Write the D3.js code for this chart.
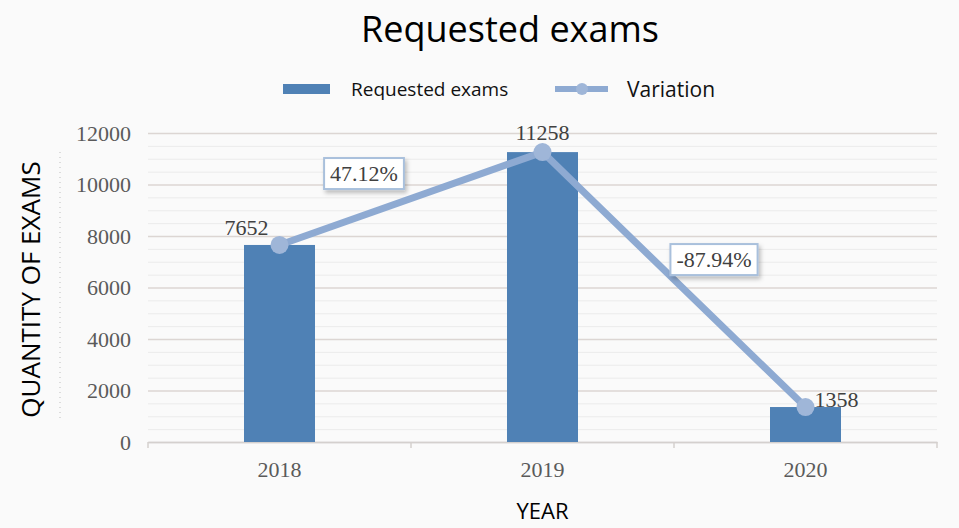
<!DOCTYPE html>
<html>
<head>
<meta charset="utf-8">
<script src="https://cdn.jsdelivr.net/npm/d3@7"></script>
<style>
  body { margin: 0; background: #fafafa; }
  svg { display: block; }
</style>
</head>
<body>
<div id="chart"></div>
<script>
(function () {
    'use strict';

    // data
    var years = ['2018', '2019', '2020'];
    var exams = [7652, 11258, 1358];
    var variations = ['47.12%', '-87.94%'];
    var yTicks = [0, 2000, 4000, 6000, 8000, 10000, 12000];

    var width = 959,
        height = 528;
    var margin = { top: 133, right: 22, bottom: 86, left: 148 };
    var plotW = width - margin.left - margin.right,
        plotH = height - margin.top - margin.bottom;

    var barColor = '#4f81b5',
        lineColor = '#8eaad2',
        sansFont = '"Open Sans", "Noto Sans", sans-serif',
        serifFont = '"Liberation Serif", "DejaVu Serif", serif';

    var svg = d3.select('#chart').append('svg')
        .attr('width', width)
        .attr('height', height);

    svg.append('rect')
        .attr('width', width)
        .attr('height', height)
        .attr('fill', '#fafafa');

    var x = d3.scaleBand()
        .domain(years)
        .range([0, plotW]);

    var y = d3.scaleLinear()
        .domain([0, 12000])
        .range([plotH, 0]);

    var g = svg.append('g')
        .attr('transform', 'translate(' + margin.left + ',' + margin.top + ')');

    // minor grid lines
    g.append('g')
        .attr('class', 'minor-grid')
        .selectAll('line')
        .data(d3.range(500, 12000, 500).filter(function (v) { return v % 2000 != 0; }))
        .enter().append('line')
        .attr('x1', 0)
        .attr('x2', plotW)
        .attr('y1', function (d) { return y(d) + 0.5; })
        .attr('y2', function (d) { return y(d) + 0.5; })
        .attr('stroke', '#ebebeb')
        .attr('stroke-width', 1);

    // major grid lines
    var yAxis = d3.axisLeft(y)
        .tickValues(yTicks)
        .tickSize(-plotW)
        .tickPadding(17)
        .tickFormat(d3.format('d'));

    var yAxisG = g.append('g')
        .attr('class', 'y-axis')
        .call(yAxis);
    yAxisG.select('.domain').remove();
    yAxisG.selectAll('.tick line')
        .attr('stroke', '#dcd6d3')
        .attr('stroke-width', 1.5);
    yAxisG.selectAll('.tick text')
        .attr('fill', '#5a5a5a')
        .style('font-family', serifFont)
        .style('font-size', '22px');

    // x axis
    var xAxis = d3.axisBottom(x)
        .tickSize(0)
        .tickPadding(19);
    var xAxisG = g.append('g')
        .attr('class', 'x-axis')
        .attr('transform', 'translate(0,' + plotH + ')')
        .call(xAxis);
    xAxisG.select('.domain')
        .attr('stroke', '#d4d0ce')
        .attr('stroke-width', 1.5);
    xAxisG.selectAll('.tick text')
        .attr('fill', '#5a5a5a')
        .style('font-family', serifFont)
        .style('font-size', '22px');

    // small tick marks between categories
    g.append('g')
        .selectAll('line')
        .data(years.concat(['end']))
        .enter().append('line')
        .attr('x1', function (d, i) { return i * x.step(); })
        .attr('x2', function (d, i) { return i * x.step(); })
        .attr('y1', plotH)
        .attr('y2', plotH + 6)
        .attr('stroke', '#d4d0ce')
        .attr('stroke-width', 1.5);

    // bars
    var barW = x.bandwidth() * 0.27;
    g.append('g')
        .attr('class', 'bars')
        .selectAll('rect')
        .data(exams)
        .enter().append('rect')
        .attr('x', function (d, i) { return x(years[i]) + x.bandwidth() / 2 - barW / 2; })
        .attr('y', function (d) { return y(d); })
        .attr('width', barW)
        .attr('height', function (d) { return plotH - y(d); })
        .attr('fill', barColor);

    // variation line
    var line = d3.line()
        .x(function (d, i) { return x(years[i]) + x.bandwidth() / 2; })
        .y(function (d) { return y(d); });

    g.append('path')
        .datum(exams)
        .attr('d', line)
        .attr('fill', 'none')
        .attr('stroke', lineColor)
        .attr('stroke-width', 7)
        .attr('stroke-linejoin', 'round');

    g.append('g')
        .selectAll('circle')
        .data(exams)
        .enter().append('circle')
        .attr('cx', function (d, i) { return x(years[i]) + x.bandwidth() / 2; })
        .attr('cy', function (d) { return y(d); })
        .attr('r', 9)
        .attr('fill', '#9fb6d8');

    // value labels
    var valueOffsets = [[-33, -10], [0, -12], [31, 0]];
    g.append('g')
        .selectAll('text')
        .data(exams)
        .enter().append('text')
        .attr('x', function (d, i) { return x(years[i]) + x.bandwidth() / 2 + valueOffsets[i][0]; })
        .attr('y', function (d, i) { return y(d) + valueOffsets[i][1]; })
        .attr('text-anchor', 'middle')
        .attr('fill', '#404040')
        .style('font-family', serifFont)
        .style('font-size', '22px')
        .text(function (d) { return d; });

    // variation labels in boxes, placed near the midpoint of each segment
    var boxOffsets = [[-47, -25], [40, -20]];
    var defs = svg.append('defs');
    var shadow = defs.append('filter').attr('id', 'shadow')
        .attr('x', '-20%').attr('y', '-20%').attr('width', '150%').attr('height', '160%');
    shadow.append('feDropShadow')
        .attr('dx', 2).attr('dy', 3).attr('stdDeviation', 2)
        .attr('flood-color', '#000').attr('flood-opacity', 0.25);

    var varItem = g.append('g')
        .attr('class', 'variation-labels')
        .selectAll('g')
        .data(variations)
        .enter().append('g')
        .attr('transform', function (d, i) {
            var cx = (x(years[i]) + x(years[i + 1])) / 2 + x.bandwidth() / 2 + boxOffsets[i][0];
            var cy = (y(exams[i]) + y(exams[i + 1])) / 2 + boxOffsets[i][1];
            return 'translate(' + cx + ',' + cy + ')';
        });

    varItem.append('text')
        .attr('text-anchor', 'middle')
        .attr('dy', '0.35em')
        .attr('fill', '#404040')
        .style('font-family', serifFont)
        .style('font-size', '22px')
        .text(function (d) { return d; });

    varItem.each(function () {
        var item = d3.select(this),
            box = item.select('text').node().getBBox();
        item.insert('rect', 'text')
            .attr('x', box.x - 6)
            .attr('y', -15.5)
            .attr('width', box.width + 12)
            .attr('height', 31)
            .attr('fill', '#ffffff')
            .attr('stroke', '#a9c0dc')
            .attr('stroke-width', 2)
            .attr('filter', 'url(#shadow)');
    });

    // title
    svg.append('text')
        .attr('x', 510)
        .attr('y', 42)
        .attr('text-anchor', 'middle')
        .attr('fill', '#000')
        .style('font-family', sansFont)
        .style('font-size', '36px')
        .text('Requested exams');

    // legend
    var legend = svg.append('g').attr('class', 'legend');
    legend.append('rect')
        .attr('x', 283)
        .attr('y', 84)
        .attr('width', 47)
        .attr('height', 10)
        .attr('fill', barColor);
    legend.append('text')
        .attr('x', 351)
        .attr('y', 96)
        .attr('fill', '#111')
        .style('font-family', sansFont)
        .style('font-size', '19px')
        .text('Requested exams');
    legend.append('line')
        .attr('x1', 555)
        .attr('x2', 608)
        .attr('y1', 89)
        .attr('y2', 89)
        .attr('stroke', lineColor)
        .attr('stroke-width', 6);
    legend.append('circle')
        .attr('cx', 582)
        .attr('cy', 89)
        .attr('r', 6)
        .attr('fill', '#9fb6d8');
    legend.append('text')
        .attr('x', 627)
        .attr('y', 97)
        .attr('fill', '#111')
        .style('font-family', sansFont)
        .style('font-size', '21px')
        .text('Variation');

    // axis titles
    svg.append('text')
        .attr('transform', 'translate(40,' + (margin.top + plotH / 2 + 2) + ') rotate(-90)')
        .attr('text-anchor', 'middle')
        .attr('fill', '#000')
        .style('font-family', sansFont)
        .style('font-size', '26px')
        .text('QUANTITY OF EXAMS');

    svg.append('line')
        .attr('x1', 60).attr('x2', 60)
        .attr('y1', 152).attr('y2', 420)
        .attr('stroke', '#bdbdbd')
        .attr('stroke-width', 1)
        .attr('stroke-dasharray', '1,4');

    svg.append('text')
        .attr('x', margin.left + plotW / 2)
        .attr('y', 519)
        .attr('text-anchor', 'middle')
        .attr('fill', '#000')
        .style('font-family', sansFont)
        .style('font-size', '22px')
        .text('YEAR');
})();
</script>
</body>
</html>
